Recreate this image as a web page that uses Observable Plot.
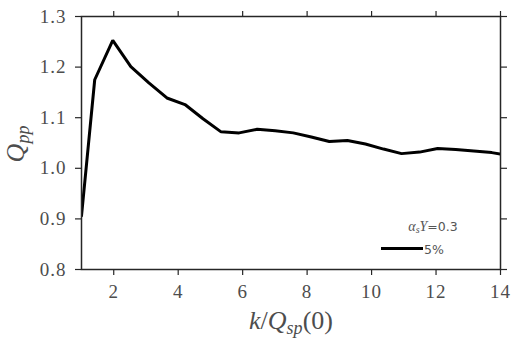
<!DOCTYPE html>
<html>
<head>
<meta charset="utf-8">
<script src="https://cdn.jsdelivr.net/npm/d3@7"></script>
<script src="https://cdn.jsdelivr.net/npm/@observablehq/plot@0.6"></script>
<style>
  html, body { margin: 0; padding: 0; background: #fff; }
</style>
</head>
<body>
<div id="chart"></div>
<script>
// k/Q_sp(0) sample positions
const kValues = [1.0, 1.41, 1.97, 2.53, 3.09, 3.65, 4.21, 4.77, 5.33, 5.89, 6.45, 7.01, 7.57, 8.13, 8.69, 9.25, 9.81, 10.37, 10.93, 11.49, 12.05, 12.61, 13.17, 13.73, 14.0];
// Q_pp values (alpha_s Y = 0.3, 5%)
const qppValues = [0.906, 1.175, 1.253, 1.201, 1.169, 1.139, 1.126, 1.098, 1.072, 1.070, 1.077, 1.074, 1.070, 1.062, 1.053, 1.055, 1.048, 1.038, 1.029, 1.032, 1.039, 1.037, 1.034, 1.031, 1.028];
const xTicks = [2, 4, 6, 8, 10, 12, 14];
const yTicks = [0.8, 0.9, 1.0, 1.1, 1.2, 1.3];
const legendTitle = "=0.3";
const seriesLabel = "5%";

const data = kValues.map((k, i) => ({k, q: qppValues[i]}));

const serif = "'Liberation Serif', serif";
const sans = "'DejaVu Sans', sans-serif";
const tickColor = "#262626";
const labelColor = "#4d4d4d";

const svg = Plot.plot({
  width: 518,
  height: 345,
  marginLeft: 81,
  marginRight: 18,
  marginTop: 16,
  marginBottom: 76,
  style: {fontFamily: serif, fontSize: "19px", background: "#fff", color: labelColor},
  x: {domain: [1, 14]},
  y: {domain: [0.8, 1.3]},
  marks: [
    Plot.axisX({ticks: xTicks, tickSize: 6, tickPadding: 9, label: null, stroke: tickColor, fill: labelColor, strokeWidth: 1.2, fontSize: 19, tickFormat: d => String(d)}),
    Plot.axisX({anchor: "top", ticks: xTicks, tickSize: 6, label: null, stroke: tickColor, strokeWidth: 1.2, tickFormat: () => ""}),
    Plot.axisY({ticks: yTicks, tickSize: 6, tickPadding: 9, label: null, stroke: tickColor, fill: labelColor, strokeWidth: 1.2, fontSize: 19, tickFormat: d => d.toFixed(1)}),
    Plot.axisY({anchor: "right", ticks: yTicks, tickSize: 6, label: null, stroke: tickColor, strokeWidth: 1.2, tickFormat: () => ""}),
    Plot.line(data, {x: "k", y: "q", stroke: "#000", strokeWidth: 3, clip: true, strokeLinejoin: "miter"}),
    Plot.frame({stroke: tickColor, strokeWidth: 1.5})
  ]
});

document.getElementById("chart").appendChild(svg);
d3.select(svg).selectAll("g[aria-label='x-axis tick label'] text, g[aria-label='y-axis tick label'] text").style("letter-spacing", "1px");

const s = d3.select(svg);

// x-axis label: k/Q_sp(0)
const xl = s.append("text")
  .attr("x", 291).attr("y", 329)
  .attr("text-anchor", "middle")
  .style("font-family", serif)
  .style("font-size", "26px")
  .attr("fill", labelColor);
xl.append("tspan").attr("font-style", "italic").text("k");
xl.append("tspan").text("/");
xl.append("tspan").attr("font-style", "italic").text("Q");
xl.append("tspan").attr("font-style", "italic").style("font-size", "18px").attr("dy", 5).text("sp");
xl.append("tspan").attr("dy", -5).text("(0)");

// y-axis label: Q_pp
const yl = s.append("text")
  .attr("transform", "translate(24,144) rotate(-90)")
  .attr("text-anchor", "middle")
  .style("font-family", serif)
  .style("font-size", "26px")
  .attr("fill", labelColor);
yl.append("tspan").attr("font-style", "italic").text("Q");
yl.append("tspan").attr("font-style", "italic").style("font-size", "18px").attr("dy", 5).text("pp");

// legend
const lg = s.append("text")
  .attr("x", 433).attr("y", 231)
  .style("font-family", sans)
  .style("font-size", "12.5px")
  .attr("fill", "#555");
lg.append("tspan").style("font-family", serif).attr("font-style", "italic").style("font-size", "14px").text("α");
lg.append("tspan").style("font-family", serif).attr("font-style", "italic").style("font-size", "10px").attr("dy", 2).text("s");
lg.append("tspan").style("font-family", serif).attr("font-style", "italic").style("font-size", "14px").attr("dy", -2).text("Y");
lg.append("tspan").text(legendTitle);

s.append("line")
  .attr("x1", 381).attr("x2", 423).attr("y1", 248.5).attr("y2", 248.5)
  .attr("stroke", "#000").attr("stroke-width", 3);
s.append("text")
  .attr("x", 434).attr("y", 254)
  .style("font-family", sans)
  .style("font-size", "12.5px")
  .attr("fill", "#555")
  .text(seriesLabel);
</script>
</body>
</html>
